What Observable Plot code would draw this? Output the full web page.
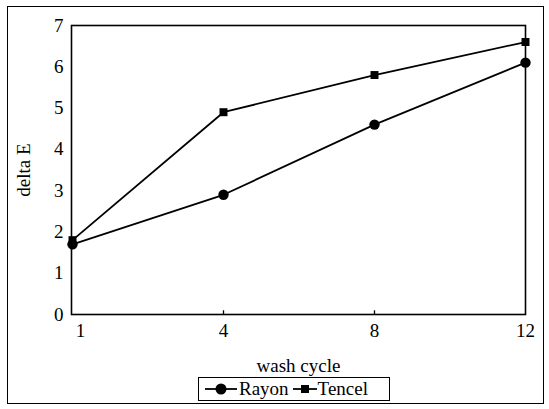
<!DOCTYPE html>
<html><head><meta charset="utf-8">
<script src="https://cdn.jsdelivr.net/npm/d3@7"></script>
<script src="https://cdn.jsdelivr.net/npm/@observablehq/plot@0.6"></script>
<style>
body{margin:0;background:#fff;font-family:"Liberation Serif","Times New Roman",serif;}
#wrap{position:relative;width:549px;height:409px;overflow:hidden;}
#frame{position:absolute;left:7px;top:6px;width:537px;height:398px;border:1.5px solid #000;box-sizing:border-box;pointer-events:none;}
#chart{position:absolute;left:0;top:0;}
#legend{position:absolute;left:198px;top:377px;width:192px;height:24px;border:1.5px solid #000;box-sizing:border-box;background:#fff;
 display:flex;align-items:center;font-size:19px;color:#000;white-space:nowrap;padding-left:6px;}
#legend .item{display:flex;align-items:center;}
#legend svg{display:block;}
</style></head>
<body><div id="wrap"><div id="chart"></div><div id="frame"></div><div id="legend"></div></div>
<script>
const cycles = ["1", "4", "8", "12"];
const rayon = [1.7, 2.9, 4.6, 6.1];
const tencel = [1.8, 4.9, 5.8, 6.6];
const yTicks = [0, 1, 2, 3, 4, 5, 6, 7];
const seriesNames = ["Rayon", "Tencel"];
const seriesSymbols = ["circle", "square"];

const rayonData = cycles.map((c, i) => ({cycle: c, value: rayon[i], series: seriesNames[0]}));
const tencelData = cycles.map((c, i) => ({cycle: c, value: tencel[i], series: seriesNames[1]}));
const data = [...rayonData, ...tencelData];

const FS = 19;
const chart = Plot.plot({
  width: 549, height: 409,
  marginLeft: 71, marginRight: 24, marginTop: 25, marginBottom: 95,
  style: {fontFamily: "'Liberation Serif','Times New Roman',serif", fontSize: FS + "px", color: "#000", background: "transparent", overflow: "visible"},
  x: {type: "point", domain: cycles, padding: 0},
  y: {domain: [0, 7]},
  marks: [
    Plot.frame({stroke: "#000", strokeWidth: 1.6}),
    Plot.ruleY(yTicks.slice(1, 7), {y: d => d, x1: cycles[0], x2: cycles[0], insetRight: -4, stroke: "#000", strokeWidth: 1.3}),
    Plot.ruleX(cycles.slice(1, 3), {x: d => d, y1: 0, y2: 0.09, stroke: "#000", strokeWidth: 1.3}),
    Plot.axisY({ticks: yTicks, tickSize: 0, tickPadding: 8, tickFormat: d => String(d), label: "delta E", labelAnchor: "center", labelArrow: "none", labelOffset: 55, fontSize: FS}),
    Plot.axisX({ticks: cycles.slice(1), tickSize: 0, tickPadding: 9, label: "wash cycle", labelAnchor: "center", labelArrow: "none", labelOffset: 57, fontSize: FS}),
    Plot.axisX({ticks: cycles.slice(0, 1), tickSize: 0, tickPadding: 9, dx: 8, label: null, fontSize: FS}),
    Plot.line(data, {x: "cycle", y: "value", z: "series", stroke: "#000", strokeWidth: 1.8}),
    Plot.dot(rayonData, {x: "cycle", y: "value", symbol: seriesSymbols[0], r: 5.2, fill: "#000", stroke: "none"}),
    Plot.dot(tencelData, {x: "cycle", y: "value", symbol: seriesSymbols[1], r: 4.5, fill: "#000", stroke: "none"})
  ]
});
document.getElementById("chart").appendChild(chart);

// legend
const legend = document.getElementById("legend");
const swWidths = [32, 24];
seriesNames.forEach((name, i) => {
  const item = document.createElement("span");
  item.className = "item";
  const w = swWidths[i];
  const ns = "http://www.w3.org/2000/svg";
  const svg = document.createElementNS(ns, "svg");
  svg.setAttribute("width", w); svg.setAttribute("height", 14);
  const line = document.createElementNS(ns, "line");
  line.setAttribute("x1", 0); line.setAttribute("x2", w); line.setAttribute("y1", 7); line.setAttribute("y2", 7);
  line.setAttribute("stroke", "#000"); line.setAttribute("stroke-width", 1.8);
  svg.appendChild(line);
  if (seriesSymbols[i] === "circle") {
    const c = document.createElementNS(ns, "circle");
    c.setAttribute("cx", w / 2); c.setAttribute("cy", 7); c.setAttribute("r", 5.5);
    svg.appendChild(c);
  } else {
    const r = document.createElementNS(ns, "rect");
    r.setAttribute("x", w / 2 - 4); r.setAttribute("y", 3); r.setAttribute("width", 8); r.setAttribute("height", 8);
    svg.appendChild(r);
  }
  item.appendChild(svg);
  const t = document.createElement("span");
  t.textContent = name;
  t.style.marginLeft = i === 0 ? "2px" : "1px";
  t.style.marginRight = i === 0 ? "4px" : "0";
  item.appendChild(t);
  legend.appendChild(item);
});
</script>
</body></html>
